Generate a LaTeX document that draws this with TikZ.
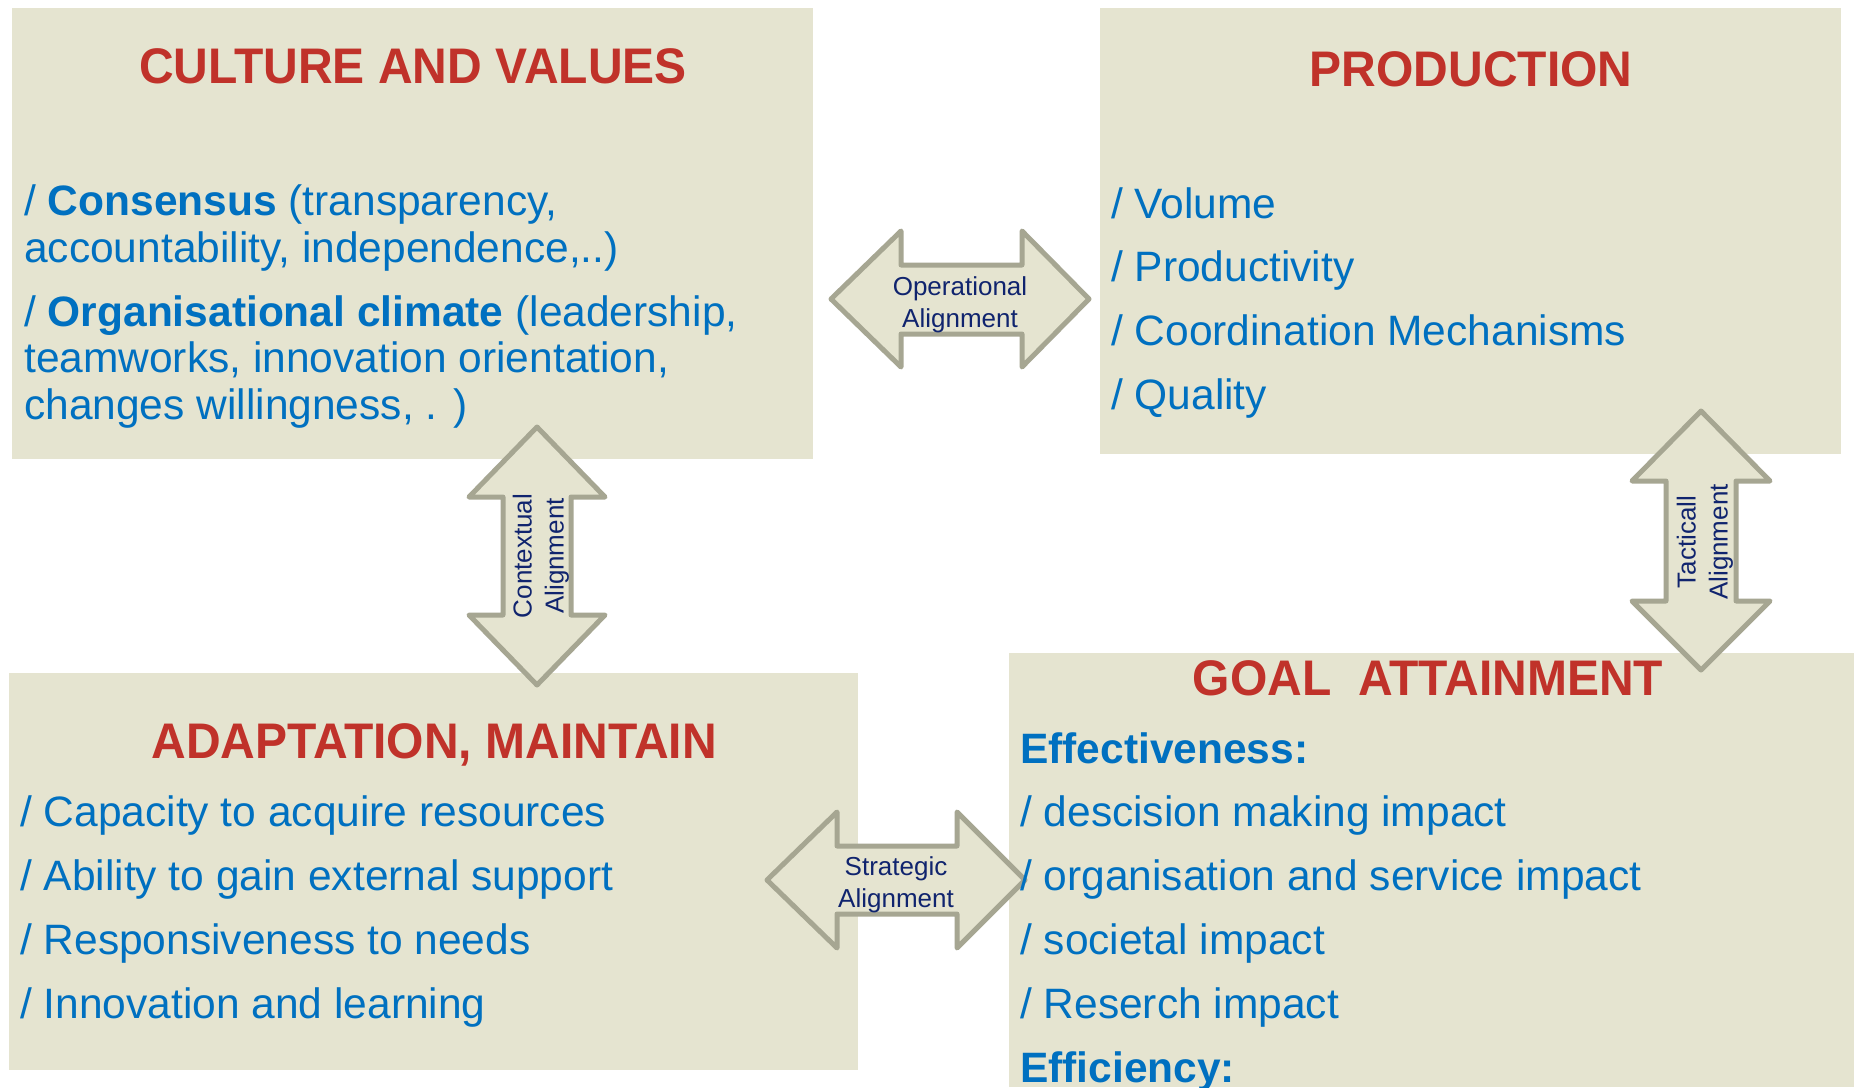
\documentclass[tikz,border=0pt]{standalone}
\usepackage{fontspec}
\setmainfont{Liberation Sans}
\newfontfamily\titlefont{Liberation Sans}[FakeStretch=0.96]
\definecolor{panelfill}{RGB}{229,228,208}
\definecolor{arrowline}{RGB}{166,166,146}
\definecolor{titlered}{RGB}{192,50,42}
\definecolor{bodyblue}{RGB}{0,112,192}
\definecolor{navy}{RGB}{16,36,110}
\tikzset{
  panel/.style={fill=panelfill, draw=none, inner sep=0pt},
  arrowshape/.style={fill=panelfill, draw=arrowline, line width=5pt, line join=round},
  titletext/.style={anchor=base, inner sep=0pt, text=titlered, font=\titlefont\bfseries\fontsize{50}{60}\selectfont},
  bodytext/.style={anchor=base west, inner sep=0pt, text=bodyblue, font=\fontsize{42.5}{50}\selectfont},
  arrowlabel/.style={inner sep=0pt, text=navy, align=center, font=\fontsize{26}{32}\selectfont}
}
\begin{document}
\begin{tikzpicture}[x=1pt,y=-1pt]
\useasboundingbox (0,0) rectangle (1854,1087);
\fill[white] (0,0) rectangle (1854,1087);

% panels
\node[panel, minimum width=801pt, minimum height=451pt] (culturebox) at (412.5,233.5) {};
\node[panel, minimum width=741pt, minimum height=446pt] (productionbox) at (1470.5,231) {};
\node[panel, minimum width=849pt, minimum height=397pt] (adaptbox) at (433.5,871.5) {};
\node[panel, minimum width=845pt, minimum height=434pt] (goalbox) at (1431.5,870) {};

% double arrows
\draw[arrowshape] (831,299) -- (901,231) -- (901,265) -- (1022,265) -- (1022,231) -- (1089,299)
  -- (1022,367) -- (1022,334) -- (901,334) -- (901,367) -- cycle;
\draw[arrowshape] (767,880) -- (837,812) -- (837,846) -- (957,846) -- (957,812) -- (1025,880)
  -- (957,948) -- (957,914) -- (837,914) -- (837,948) -- cycle;
\draw[arrowshape] (537,427) -- (605,497) -- (571,497) -- (571,615) -- (605,615) -- (537,685)
  -- (469,615) -- (503,615) -- (503,497) -- (469,497) -- cycle;
\draw[arrowshape] (1701,411) -- (1770,481) -- (1736,481) -- (1736,601) -- (1770,601) -- (1701,670)
  -- (1632,601) -- (1666,601) -- (1666,481) -- (1632,481) -- cycle;

\node[arrowlabel] (oplabel) at (960,305) {Operational\\Alignment};
\node[arrowlabel] (stlabel) at (896,885) {Strategic\\Alignment};
\node[arrowlabel, rotate=90] (colabel) at (541,556) {Contextual\\Alignment};
\node[arrowlabel, rotate=90] (talabel) at (1705,542) {Tacticall\\Alignment};

% culture
\node[titletext] (culturetitle) at (413,83) {CULTURE AND VALUES};
\node[bodytext] (c1) at (24,215) {/ \textbf{Consensus} (transparency,};
\node[bodytext] (c2) at (24,262) {accountability, independence,..)};
\node[bodytext] (c3) at (24,326) {/ \textbf{Organisational climate} (leadership,};
\node[bodytext] (c4) at (24,372) {teamworks, innovation orientation,};
\node[bodytext] (c5) at (24,419) {changes willingness, . )};

% production
\node[titletext] (prodtitle) at (1471,86) {PRODUCTION};
\node[bodytext] (p1) at (1111,218) {/ Volume};
\node[bodytext] (p2) at (1111,281) {/ Productivity};
\node[bodytext] (p3) at (1111,345) {/ Coordination Mechanisms};
\node[bodytext] (p4) at (1111,409) {/ Quality};

% adaptation
\node[titletext] (adapttitle) at (434,758) {ADAPTATION, MAINTAIN};
\node[bodytext] (a1) at (20,826) {/ Capacity to acquire resources};
\node[bodytext] (a2) at (20,890) {/ Ability to gain external support};
\node[bodytext] (a3) at (20,954) {/ Responsiveness to needs};
\node[bodytext] (a4) at (20,1018) {/ Innovation and learning};

% goal
\node[titletext] (goaltitle) at (1428,695) {GOAL\ \ ATTAINMENT};
\node[bodytext] (g0) at (1020,763) {\textbf{Effectiveness:}};
\node[bodytext] (g1) at (1020,826) {/ descision making impact};
\node[bodytext] (g2) at (1020,890) {/ organisation and service impact};
\node[bodytext] (g3) at (1020,954) {/ societal impact};
\node[bodytext] (g4) at (1020,1018) {/ Reserch impact};
\node[bodytext] (g5) at (1020,1082) {\textbf{Efficiency:}};
\end{tikzpicture}
\end{document}
